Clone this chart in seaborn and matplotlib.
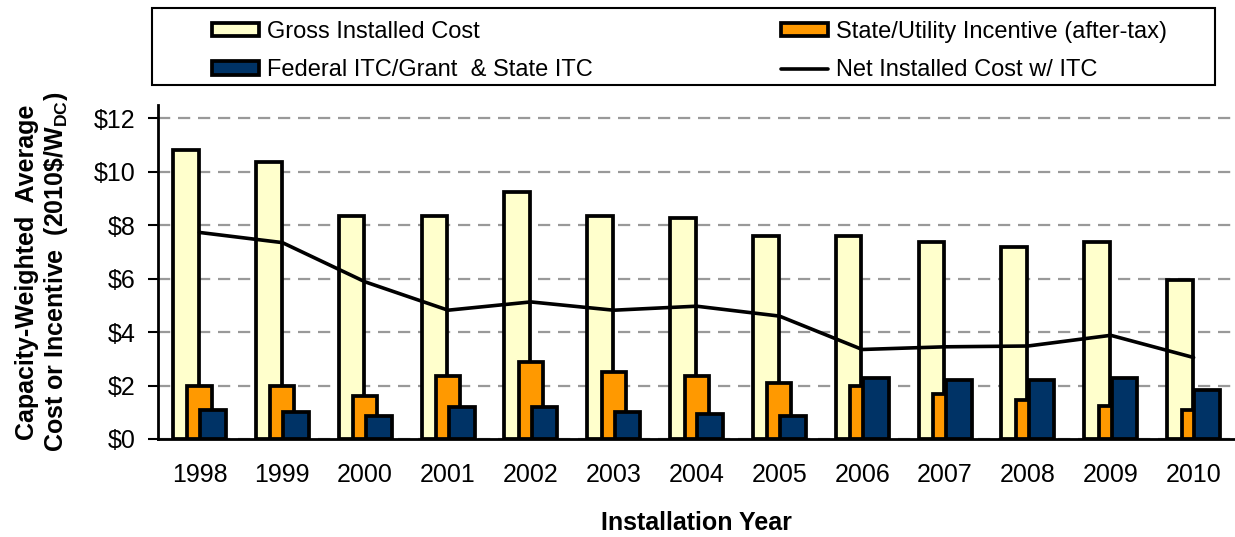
import matplotlib
matplotlib.use('Agg')

import numpy as np
import pandas as pd
import seaborn as sns
from matplotlib import pyplot as plt
from matplotlib.patches import Patch, Rectangle
from matplotlib.lines import Line2D

years = [1998, 1999, 2000, 2001, 2002, 2003, 2004, 2005, 2006, 2007, 2008, 2009, 2010]
gross = [10.80, 10.37, 8.34, 8.34, 9.25, 8.34, 8.28, 7.59, 7.59, 7.38, 7.17, 7.38, 5.94]
state = [1.98, 1.98, 1.61, 2.37, 2.89, 2.52, 2.36, 2.11, 1.98, 1.68, 1.46, 1.23, 1.08]
federal = [1.08, 1.01, 0.86, 1.18, 1.18, 1.01, 0.93, 0.86, 2.29, 2.21, 2.21, 2.29, 1.83]
net = [7.73, 7.35, 5.88, 4.82, 5.13, 4.82, 4.97, 4.60, 3.35, 3.45, 3.48, 3.88, 3.05]

labels = ['Gross Installed Cost', 'State/Utility Incentive (after-tax)',
          'Federal ITC/Grant  & State ITC', 'Net Installed Cost w/ ITC']
colors = ['#FFFFCC', '#FF9900', '#003366']

sns.set_style('white')
plt.rcParams['font.family'] = ['Liberation Sans', 'DejaVu Sans']
plt.rcParams['mathtext.fontset'] = 'custom'
plt.rcParams['mathtext.rm'] = 'Liberation Sans'
plt.rcParams['mathtext.bf'] = 'Liberation Sans:bold'
for k in ['text.color', 'axes.labelcolor', 'xtick.color', 'ytick.color']:
    plt.rcParams[k] = 'black'

df = pd.DataFrame({'year': years, 'gross': gross, 'state': state,
                   'federal': federal, 'net': net})

fig = plt.figure(figsize=(12.35, 5.37), dpi=100)
ax = fig.add_axes([0.128, 0.1825, 0.872, 0.622])

ew = 2.7
# overlapping bars, excel style: gross left, state centred, federal right
for col, off, w, c in [('gross', -0.165, 0.31, colors[0]),
                       ('state', 0.0, 0.29, colors[1]),
                       ('federal', 0.165, 0.31, colors[2])]:
    sns.barplot(x=df['year'] + off, y=df[col], native_scale=True, width=w,
                color=c, saturation=1, edgecolor='black', linewidth=ew,
                errorbar=None, ax=ax)

sns.lineplot(x=df['year'], y=df['net'], color='black', lw=2.6, ax=ax)

ax.set_xlim(1997.5, 2010.5)
ax.set_ylim(0, 12.5)
ax.set_yticks(range(0, 13, 2))
ax.set_yticklabels(['$%d' % v for v in range(0, 13, 2)])
ax.set_xticks(np.arange(1997.5, 2011, 1))
ax.set_xticklabels([])
ax.set_xticks(years, minor=True)
ax.set_xticklabels([str(y) for y in years], minor=True)
ax.tick_params(axis='x', which='major', direction='out', length=7, width=1.5, color='black')
ax.tick_params(axis='x', which='minor', length=0, pad=17, labelsize=18)
ax.tick_params(axis='y', direction='out', length=7, width=1.5, color='black',
               pad=9, labelsize=18, left=True)

ax.yaxis.grid(True, color='#999999', ls=(0, (5.5, 3.5)), lw=1.6)
ax.set_axisbelow(True)
sns.despine(ax=ax)
for s in ['left', 'bottom']:
    ax.spines[s].set_linewidth(2)
    ax.spines[s].set_color('black')

ax.set_xlabel('Installation Year', fontsize=18, fontweight='bold')
ax.xaxis.set_label_coords(0.5, -0.215)
ax.set_ylabel('Capacity-Weighted  Average\nCost or Incentive  (2010\\$/W$_{\\mathbf{DC}}$)',
              fontsize=18, fontweight='bold', linespacing=1.15)
ax.yaxis.set_label_coords(-0.082, 0.5)

handles = [Patch(facecolor=colors[0], edgecolor='black', lw=ew),
           Patch(facecolor=colors[2], edgecolor='black', lw=ew),
           Patch(facecolor=colors[1], edgecolor='black', lw=ew),
           Line2D([], [], color='black', lw=2.6)]
hl = [labels[0], labels[2], labels[1], labels[3]]
fig.legend(handles, hl, ncol=2, loc='center', mode='expand', frameon=False,
           bbox_to_anchor=(212 / 1235, 1 - 91 / 537, 955 / 1235, 80 / 537),
           fontsize=17, handlelength=2.0, handleheight=0.5, handletextpad=0.35,
           labelspacing=0.7, borderpad=0, borderaxespad=0)
fig.patches.append(Rectangle((152 / 1235, 1 - 85 / 537), 1063 / 1235, 77 / 537,
                             transform=fig.transFigure, fill=False,
                             edgecolor='black', lw=1.5))

plt.savefig('out.png', dpi=100)
